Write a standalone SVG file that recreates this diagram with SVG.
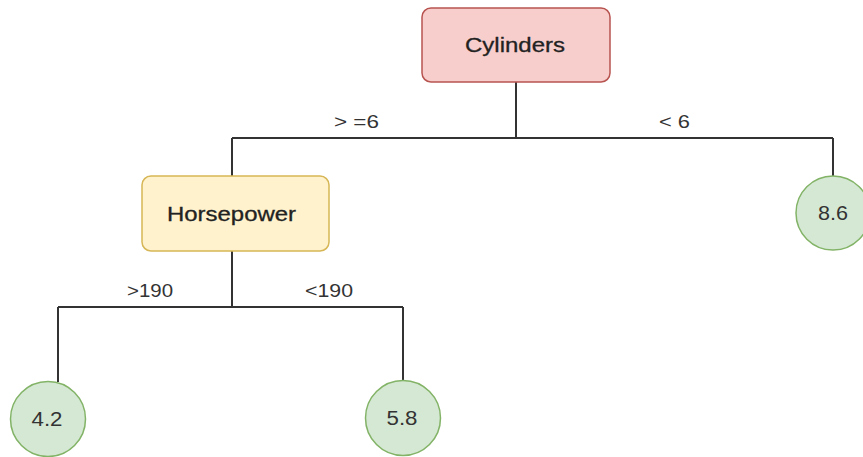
<svg xmlns="http://www.w3.org/2000/svg" width="863" height="457" viewBox="0 0 863 457">
  <style>
    .edge { fill: none; stroke: #333333; stroke-width: 2; }
    .lbl { font-family: "Liberation Sans", Arial, sans-serif; font-size: 18px; fill: #333333; text-anchor: middle; }
    .ntxt { font-family: "Liberation Sans", Arial, sans-serif; font-size: 20px; fill: #222222; stroke: #222222; stroke-width: 0.3; text-anchor: middle; dominant-baseline: central; }
    .ltxt { font-family: "Liberation Sans", Arial, sans-serif; font-size: 20px; fill: #333333; text-anchor: middle; dominant-baseline: central; }
    .red { fill: #f8cecc; stroke: #b85450; stroke-width: 1.5; }
    .yel { fill: #fff2cc; stroke: #d6b656; stroke-width: 1.5; }
    .grn { fill: #d5e8d4; stroke: #82b366; stroke-width: 1.5; }
  </style>
  <rect width="863" height="457" fill="#ffffff"/>

  <!-- connectors -->
  <g id="connectors">
    <path class="edge" d="M516 82 V138 M232 138 H833 M232 138 V176 M833 138 V176"/>
    <path class="edge" d="M232 251 V307 M58 307 H403 M58 307 V382 M403 307 V381"/>
    <text class="lbl" x="356.5" y="128" textLength="45" lengthAdjust="spacingAndGlyphs">&gt; =6</text>
    <text class="lbl" x="674.5" y="128" textLength="31" lengthAdjust="spacingAndGlyphs">&lt; 6</text>
    <text class="lbl" x="150" y="297" textLength="46" lengthAdjust="spacingAndGlyphs">&gt;190</text>
    <text class="lbl" x="329" y="297" textLength="48" lengthAdjust="spacingAndGlyphs">&lt;190</text>
  </g>

  <g id="cylinders">
    <rect class="red" x="422" y="8" width="188" height="74" rx="9"/>
    <text class="ntxt" x="515" y="45" textLength="100" lengthAdjust="spacingAndGlyphs">Cylinders</text>
  </g>

  <g id="horsepower">
    <rect class="yel" x="142" y="176" width="187" height="75" rx="9"/>
    <text class="ntxt" x="231.5" y="214" textLength="129" lengthAdjust="spacingAndGlyphs">Horsepower</text>
  </g>

  <g id="leaf-8-6">
    <circle class="grn" cx="833" cy="213" r="37"/>
    <text class="ltxt" x="833" y="213" textLength="30" lengthAdjust="spacingAndGlyphs">8.6</text>
  </g>

  <g id="leaf-4-2">
    <circle class="grn" cx="48" cy="419" r="37.5"/>
    <text class="ltxt" x="47" y="419" textLength="31" lengthAdjust="spacingAndGlyphs">4.2</text>
  </g>

  <g id="leaf-5-8">
    <circle class="grn" cx="403" cy="418" r="37.5"/>
    <text class="ltxt" x="402" y="418" textLength="31" lengthAdjust="spacingAndGlyphs">5.8</text>
  </g>
</svg>
